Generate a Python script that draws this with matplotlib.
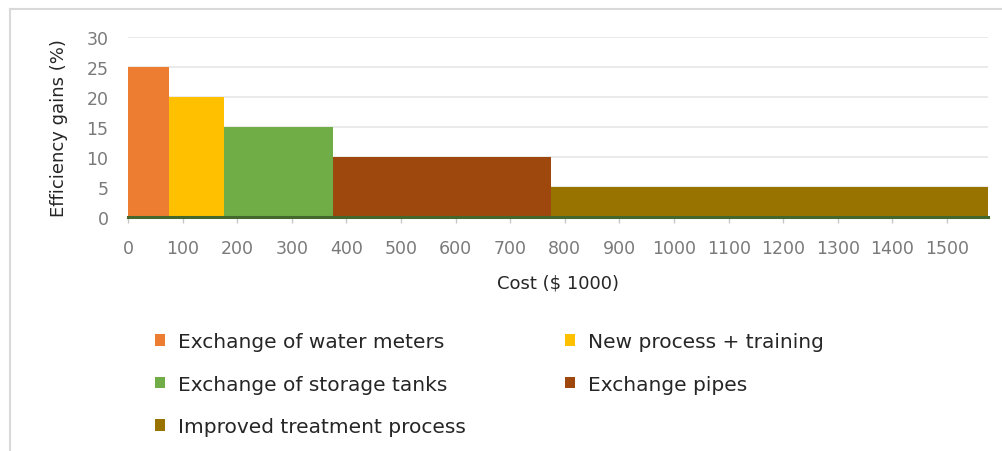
import numpy as np
import matplotlib
matplotlib.use("Agg")
import matplotlib.pyplot as plt
from matplotlib.patches import Patch
from matplotlib.lines import Line2D

# data: each measure's cost ($ 1000) and efficiency gain (%)
measures = ["Exchange of water meters", "New process + training",
            "Exchange of storage tanks", "Exchange pipes",
            "Improved treatment process"]
costs = [75, 100, 200, 400, 800]
gains = [25, 20, 15, 10, 5]
colors = ["#ED7D31", "#FFC000", "#70AD47", "#9E480E", "#997300"]
xticks = list(range(0, 1600, 100))
yticks = [0, 5, 10, 15, 20, 25, 30]

plt.rcParams["font.family"] = ["DejaVu Sans"]
W, H = 1003, 452
fig = plt.figure(figsize=(W / 100, H / 100), dpi=100)
ax = fig.add_axes([128 / W, 1 - 218 / H, (988 - 128) / W, (218 - 38) / H])

lefts = np.concatenate([[0], np.cumsum(costs)[:-1]])
ax.bar(lefts, gains, width=costs, align="edge", color=colors, linewidth=0, zorder=2)

ax.set_xlim(0, sum(costs))
ax.set_ylim(0, 30)
ax.set_xticks(xticks)
ax.set_yticks(yticks)
ax.tick_params(axis="x", colors="#c8c8c8", length=4, width=1, labelcolor="#7a7a7a",
               labelsize=12.5, pad=12)
ax.tick_params(axis="y", length=0, labelcolor="#7a7a7a", labelsize=12.5, pad=14)
ax.grid(axis="y", color="#e6e6e6", lw=1.2, zorder=0)
for s in ["top", "right", "left"]:
    ax.spines[s].set_visible(False)
ax.spines["bottom"].set_color("#44682B")
ax.spines["bottom"].set_linewidth(2.2)
ax.spines["bottom"].set_zorder(3)

ax.set_ylabel("Efficiency gains (%)", fontsize=13, color="#262626")
ax.yaxis.set_label_coords(-60 / (988 - 128), 0.5)
ax.set_xlabel("Cost ($ 1000)", fontsize=13, color="#262626", labelpad=12)

# legend, filled column-first: reorder so rows read left to right
order = [0, 2, 4, 1, 3]
handles = [Patch(facecolor=colors[i], edgecolor="none", label=measures[i]) for i in order]
fig.legend(handles=handles, loc="upper left", bbox_to_anchor=(137 / W, 1 - 315 / H),
           ncol=2, frameon=False, fontsize=14.5, handlelength=0.5, handleheight=0.5,
           handletextpad=0.65, columnspacing=4.9, labelspacing=1.165, labelcolor="#262626")

# light chart border (top and left edges visible)
fig.add_artist(Line2D([10 / W, 1], [1 - 10 / H, 1 - 10 / H], color="#d9d9d9", lw=1.5))
fig.add_artist(Line2D([10 / W, 10 / W], [0, 1 - 10 / H], color="#d9d9d9", lw=1.5))

fig.savefig("out.png", dpi=100)
